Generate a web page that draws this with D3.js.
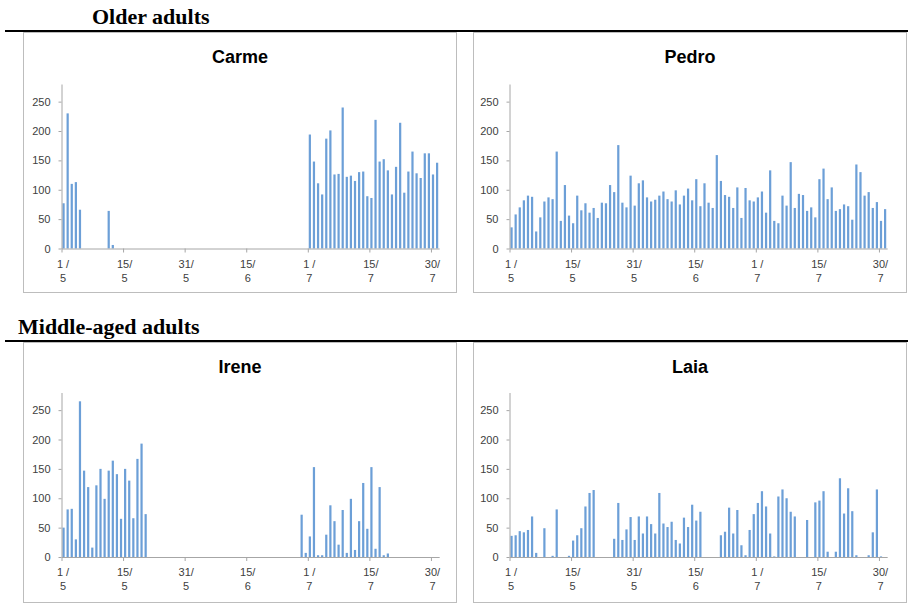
<!DOCTYPE html>
<html>
<head>
<meta charset="utf-8">
<script src="https://cdn.jsdelivr.net/npm/d3@7"></script>
<style>
	body { margin: 0; background: #fff; }
	svg { display: block; }
</style>
</head>
<body>
<div id="graph"></div>
<script>
// Daily categories 1/5 .. 31/7
const days = d3.timeDay
	.range(new Date(2013, 4, 1), new Date(2013, 7, 1))
	.map((d) => `${d.getDate()}/${d.getMonth() + 1}`);

// Tick labels (every 15 days, two lines each)
const tickLabels = [
	['1 /', '5'], ['15/', '5'], ['31/', '5'], ['15/', '6'],
	['1 /', '7'], ['15/', '7'], ['30/', '7'],
];
const tickIndex = [0, 15, 30, 45, 60, 75, 90];
const yTicks = [0, 50, 100, 150, 200, 250];

// Values, one per day
const carme = [
	77, 230, 110, 113, 66, 0, 0, 0, 0, 0,
	0, 64, 6, 0, 0, 0, 0, 0, 0, 0,
	0, 0, 0, 0, 0, 0, 0, 0, 0, 0,
	0, 0, 0, 0, 0, 0, 0, 0, 0, 0,
	0, 0, 0, 0, 0, 0, 0, 0, 0, 0,
	0, 0, 0, 0, 0, 0, 0, 0, 0, 0,
	194, 148, 111, 92, 187, 201, 126, 127, 240, 122,
	124, 115, 130, 131, 89, 86, 219, 148, 152, 133,
	92, 139, 214, 95, 131, 165, 128, 120, 162, 162,
	126, 146,
];
const pedro = [
	36, 58, 70, 82, 90, 88, 29, 53, 80, 87,
	84, 165, 47, 108, 56, 43, 90, 65, 77, 61,
	69, 52, 78, 77, 108, 96, 176, 78, 70, 124,
	73, 111, 116, 87, 80, 83, 90, 97, 84, 80,
	99, 75, 90, 102, 82, 118, 72, 111, 78, 69,
	159, 115, 91, 88, 69, 104, 52, 103, 82, 80,
	87, 97, 61, 133, 47, 43, 90, 73, 147, 69,
	93, 91, 64, 70, 53, 118, 136, 84, 104, 64,
	67, 75, 72, 49, 143, 130, 90, 96, 69, 79,
	47, 67,
];
const irene = [
	50, 81, 82, 30, 265, 147, 119, 16, 122, 150,
	99, 147, 164, 141, 65, 150, 130, 66, 167, 193,
	73, 0, 0, 0, 0, 0, 0, 0, 0, 0,
	0, 0, 0, 0, 0, 0, 0, 0, 0, 0,
	0, 0, 0, 0, 0, 0, 0, 0, 0, 0,
	0, 0, 0, 0, 0, 0, 0, 0, 72, 7,
	35, 153, 3, 3, 38, 88, 61, 21, 80, 7,
	99, 12, 61, 126, 48, 153, 14, 119, 3, 6,
	0, 0, 0, 0, 0, 0, 0, 0, 0, 0,
	0, 0,
];
const laia = [
	36, 37, 44, 42, 46, 69, 7, 0, 49, 0,
	2, 81, 0, 0, 2, 28, 37, 49, 86, 109,
	114, 0, 0, 0, 0, 31, 92, 29, 47, 68,
	29, 69, 40, 69, 56, 40, 109, 57, 51, 60,
	29, 23, 67, 51, 89, 62, 77, 0, 0, 0,
	0, 37, 43, 84, 40, 80, 20, 3, 46, 73,
	92, 112, 86, 40, 1, 103, 115, 100, 77, 69,
	0, 0, 63, 0, 93, 96, 112, 9, 0, 9,
	134, 74, 117, 78, 3, 0, 0, 3, 42, 115,
	1, 0,
];

const names = ['Carme', 'Pedro', 'Irene', 'Laia'];
const series = [carme, pedro, irene, laia];
const groups = ['Older adults', 'Middle-aged adults'];

// Layout
const width = 908, height = 615;
const cols = [
	{ box: 23.5, plot: 61.5 },
	{ box: 473.5, plot: 509.5 },
];
const rows = [
	{ box: 32.5, top: 84, base: 248.5 },
	{ box: 342.5, top: 392.5, base: 557 },
];
const boxW = 433, boxH = 260;
const step = 4.105;
const grey = '#a6a6a6';
const textCol = '#404040';
const barCol = '#6c9fd7';

const svg = d3
	.select('#graph')
	.append('svg')
	.attr('width', width)
	.attr('height', height);

// Group headers and rules
groups.forEach((g, r) => {
	const y0 = r === 0 ? 0 : 310;
	svg
		.append('text')
		.attr('x', r === 0 ? 92 : 18)
		.attr('y', y0 + 24)
		.attr('font-family', '"Liberation Serif", "Times New Roman", serif')
		.attr('font-weight', 'bold')
		.attr('font-size', 22)
		.attr('fill', '#000')
		.text(g);
	svg
		.append('line')
		.attr('x1', 5)
		.attr('x2', width)
		.attr('y1', y0 + 31)
		.attr('y2', y0 + 31)
		.attr('stroke', '#000')
		.attr('stroke-width', 2);
});

names.forEach((name, k) => {
	const col = cols[k % 2], row = rows[Math.floor(k / 2)];
	const data = days.map((d, i) => ({ day: d, value: series[k][i] }));

	const g = svg.append('g');

	// Panel frame
	g.append('rect')
		.attr('x', col.box)
		.attr('y', row.box)
		.attr('width', boxW)
		.attr('height', boxH)
		.attr('fill', '#fff')
		.attr('stroke', '#bdbdbd')
		.attr('stroke-width', 1);

	// Title
	g.append('text')
		.attr('x', col.box + boxW / 2)
		.attr('y', row.box + 30)
		.attr('text-anchor', 'middle')
		.attr('font-family', '"Liberation Sans", Arial, sans-serif')
		.attr('font-weight', 'bold')
		.attr('font-size', 18)
		.attr('fill', '#000')
		.text(name);

	// Scales
	const x = d3
		.scaleBand()
		.domain(days)
		.range([col.plot, col.plot + days.length * step])
		.paddingInner(0.46)
		.paddingOuter(0.23);
	const xi = d3
		.scaleLinear()
		.domain([0, days.length])
		.range([col.plot, col.plot + days.length * step]);
	const y = d3.scaleLinear().domain([0, 280]).range([row.base, row.top]);

	// Bars
	g.selectAll('rect.bar')
		.data(data)
		.join('rect')
		.attr('class', 'bar')
		.attr('x', (d) => x(d.day))
		.attr('width', x.bandwidth())
		.attr('y', (d) => y(d.value))
		.attr('height', (d) => y(0) - y(d.value))
		.attr('fill', barCol);

	// Y axis
	const yAxis = g
		.append('g')
		.attr('transform', `translate(${col.plot}, 0)`)
		.call(d3.axisLeft(y).tickValues(yTicks).tickSize(3).tickSizeOuter(0).tickPadding(8));
	yAxis.select('.domain').attr('stroke', grey);
	yAxis.selectAll('.tick line').attr('stroke', grey);
	yAxis
		.selectAll('.tick text')
		.attr('fill', textCol)
		.attr('font-size', 11)
		.attr('font-family', '"Liberation Sans", Arial, sans-serif');

	// X axis
	const xAxis = g
		.append('g')
		.attr('transform', `translate(0, ${row.base})`)
		.call(d3.axisBottom(xi).tickValues(tickIndex).tickSize(4).tickSizeOuter(0).tickFormat(''));
	xAxis.select('.domain').attr('stroke', grey);
	xAxis.selectAll('.tick line').attr('stroke', grey);
	xAxis.selectAll('.tick text').remove();
	xAxis
		.selectAll('.tick')
		.append('text')
		.attr('fill', textCol)
		.attr('font-size', 11)
		.attr('font-family', '"Liberation Sans", Arial, sans-serif')
		.attr('text-anchor', 'middle')
		.selectAll('tspan')
		.data((d, i) => tickLabels[i])
		.join('tspan')
		.attr('x', 1)
		.attr('y', (d, i) => 19 + i * 14.4)
		.text((d) => d);
});
</script>
</body>
</html>
